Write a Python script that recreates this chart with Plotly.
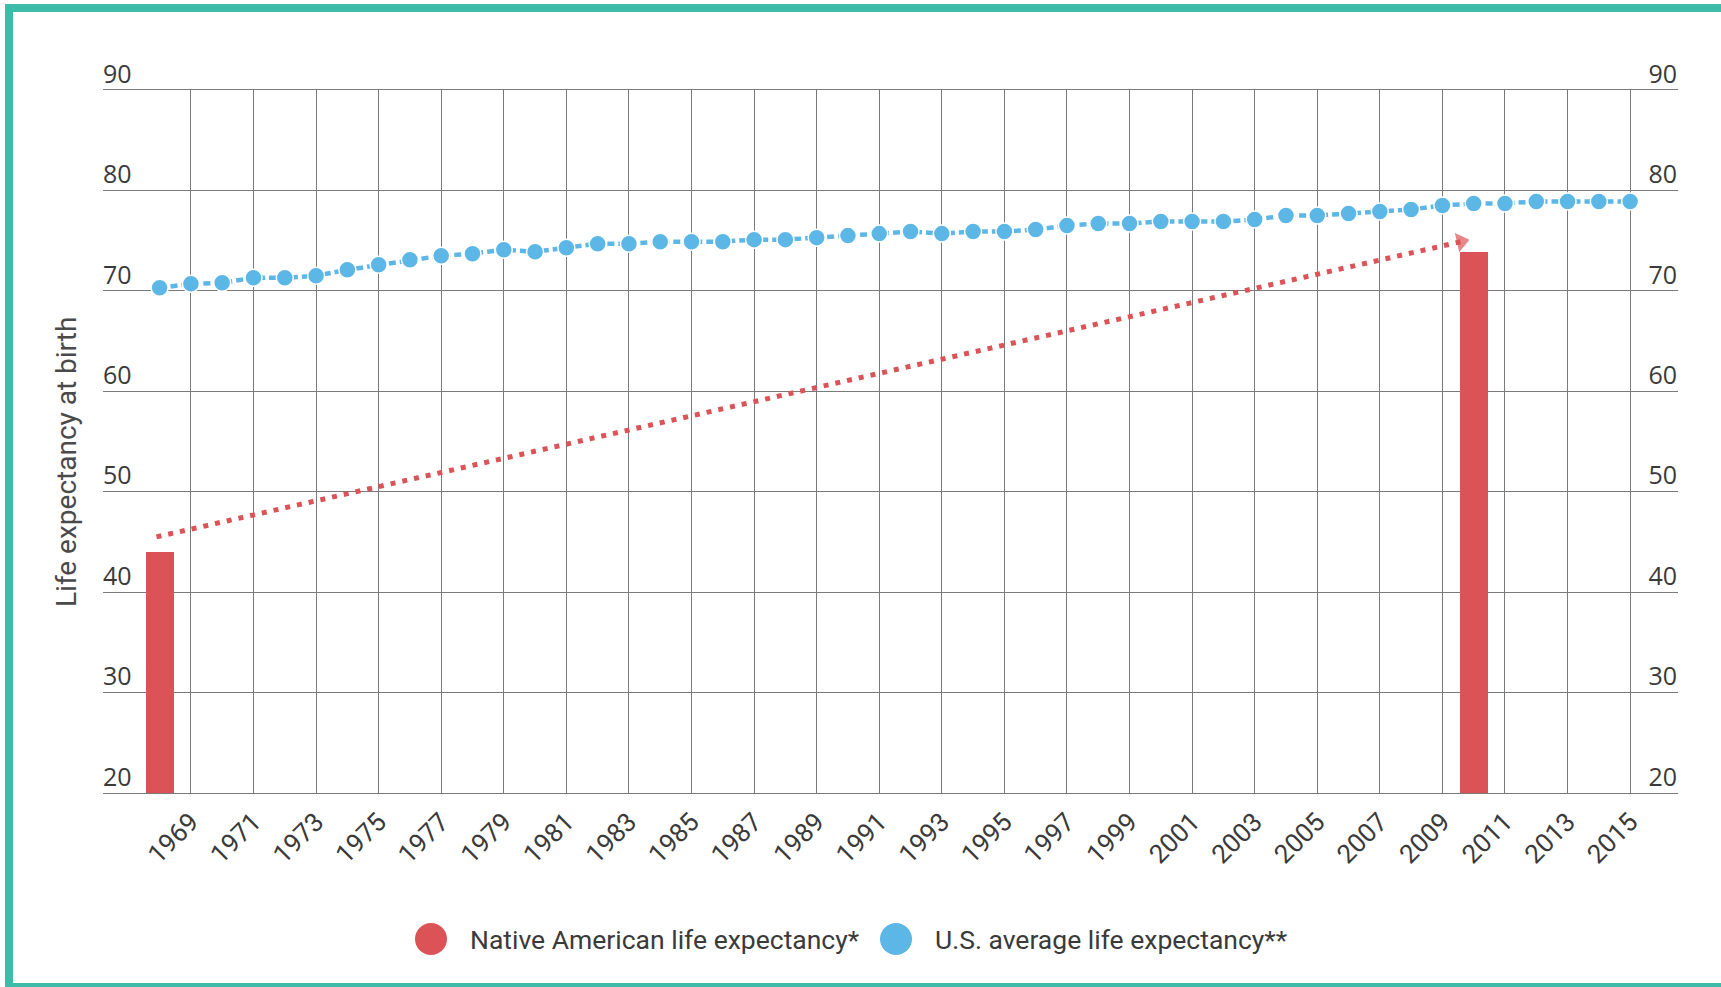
import plotly.graph_objects as go

# ---- data -------------------------------------------------------------
years = list(range(1968, 2016))
us_avg = [70.3, 70.7, 70.8, 71.3, 71.3, 71.5, 72.1, 72.6, 73.1, 73.5,
          73.7, 74.1, 73.9, 74.3, 74.7, 74.7, 74.9, 74.9, 74.9, 75.1,
          75.1, 75.3, 75.5, 75.7, 75.9, 75.7, 75.9, 75.9, 76.1, 76.5,
          76.7, 76.7, 76.9, 76.9, 76.9, 77.1, 77.5, 77.5, 77.7, 77.9,
          78.1, 78.5, 78.7, 78.7, 78.9, 78.9, 78.9, 78.9]

native_years = [1968, 2010]
native_vals = [44.0, 73.9]

# trend arrow between the two Native American readings
trend_x = [1967.9, 2009.6]
trend_y = [45.5, 74.9]

x_ticks = list(range(1969, 2016, 2))
y_ticks = [20, 30, 40, 50, 60, 70, 80, 90]

native_name = "Native American life expectancy*"
us_name = "U.S. average life expectancy**"
y_title = "Life expectancy at birth"

# ---- styling ----------------------------------------------------------
W, H = 1721, 987
ML, MR, MT, MB = 103, 43, 90, 194
PW, PH = W - ML - MR, H - MT - MB
RED = "#dc5357"
BLUE = "#5db7e6"
TEAL = "#3fbba9"
GRID = "#7a7a7a"
TXT = "#3a3a3a"


def px_x(p):
    return (p - ML) / PW


def px_y(p):
    return (H - MB - p) / PH


fig = go.Figure()

fig.add_trace(go.Bar(
    x=native_years, y=native_vals, width=0.9,
    marker=dict(color=RED, line=dict(width=0)),
    name=native_name, showlegend=False,
))

fig.add_trace(go.Scatter(
    x=trend_x, y=trend_y, mode="lines+markers",
    line=dict(color=RED, width=5, dash="5px,7px"),
    marker=dict(size=[0, 17], color=RED, symbol="triangle-up",
                angleref="previous", line=dict(width=0)),
    showlegend=False, hoverinfo="skip",
))

fig.add_trace(go.Scatter(
    x=years, y=us_avg, mode="lines+markers", yaxis="y2",
    line=dict(color=BLUE, width=4.5, dash="7px,4px"),
    marker=dict(size=17, color=BLUE, line=dict(color="white", width=1.5)),
    name=us_name, showlegend=False,
))

tick_font = dict(family="Open Sans", size=25, color=TXT)
fig.update_layout(
    width=W, height=H,
    margin=dict(l=ML, r=MR, t=MT, b=MB),
    paper_bgcolor="white", plot_bgcolor="white",
    showlegend=False,
    xaxis=dict(
        range=[1966.19, 2016.53], tickvals=x_ticks,
        ticktext=[str(v) for v in x_ticks], tickangle=-45,
        showgrid=True, gridcolor=GRID, gridwidth=1.4,
        showline=True, mirror=True, linecolor=GRID, linewidth=1.4,
        zeroline=False, ticks="", ticklabelstandoff=2,
        tickfont=dict(family="Roboto", size=26, color=TXT),
    ),
    yaxis=dict(
        range=[20, 90], tickvals=y_ticks,
        showgrid=True, gridcolor=GRID, gridwidth=1.4,
        zeroline=False, showline=False, ticks="",
        ticklabelposition="inside", ticklabelshift=-16,
        ticklabelstandoff=-3,
        ticklabeloverflow="allow", tickfont=tick_font,
    ),
    yaxis2=dict(
        range=[20, 90], tickvals=y_ticks, overlaying="y", side="right",
        showgrid=False, zeroline=False, showline=False, ticks="",
        ticklabelposition="inside", ticklabelshift=-16,
        ticklabelstandoff=-2,
        ticklabeloverflow="allow", tickfont=tick_font,
    ),
    bargap=0,
)

# axis title
fig.add_annotation(
    text=y_title, xref="paper", yref="paper",
    x=px_x(66), y=px_y(462), textangle=-90,
    showarrow=False, xanchor="center", yanchor="middle",
    font=dict(family="Roboto", size=28, color="#4a4a4a"),
)

# legend row
for cx, color, label, tx in [(431, RED, native_name, 468),
                             (896, BLUE, us_name, 933)]:
    fig.add_shape(
        type="circle", xref="paper", yref="paper",
        x0=px_x(cx - 16), x1=px_x(cx + 16),
        y0=px_y(939 + 16), y1=px_y(939 - 16),
        fillcolor=color, line=dict(width=0),
    )
    fig.add_annotation(
        text=label, xref="paper", yref="paper",
        x=px_x(tx), y=px_y(939), showarrow=False,
        xanchor="left", yanchor="middle",
        font=dict(family="Roboto", size=26.5, color=TXT),
    )

# frame around the graphic
fig.add_shape(
    type="rect", xref="paper", yref="paper",
    x0=px_x(9), x1=px_x(1760), y0=px_y(987), y1=px_y(8),
    line=dict(color=TEAL, width=8), fillcolor="rgba(0,0,0,0)",
    layer="above",
)

fig.write_html("out.html")
